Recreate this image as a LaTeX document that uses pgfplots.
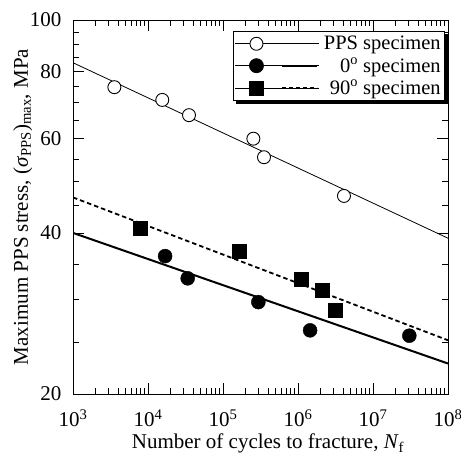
\documentclass[border=0pt]{standalone}
\usepackage{fontspec}
\setmainfont{Liberation Serif}
\usepackage{pgfplots}
\pgfplotsset{compat=1.18}
\begin{document}
\begin{tikzpicture}
\useasboundingbox (-73pt,-60pt) rectangle (388pt,394pt);
\begin{axis}[
  at={(0pt,0pt)}, anchor=south west,
  scale only axis, width=375pt, height=374pt,
  xmode=log, ymode=log,
  xmin=1e3, xmax=1e8, ymin=20, ymax=100,
  xtick={1e3,1e4,1e5,1e6,1e7,1e8},
  xticklabels={10\textsuperscript{3},10\textsuperscript{4},10\textsuperscript{5},10\textsuperscript{6},10\textsuperscript{7},10\textsuperscript{8}},
  minor xtick={2e3,3e3,4e3,5e3,6e3,7e3,8e3,9e3,
               2e4,3e4,4e4,5e4,6e4,7e4,8e4,9e4,
               2e5,3e5,4e5,5e5,6e5,7e5,8e5,9e5,
               2e6,3e6,4e6,5e6,6e6,7e6,8e6,9e6,
               2e7,3e7,4e7,5e7,6e7,7e7,8e7,9e7},
  ytick={20,40,60,80,100},
  yticklabels={20,40,60,80,100},
  minor ytick={25,30,35,45,50,55,65,70,75,85,90,95},
  tick align=inside,
  major tick length=11pt, minor tick length=6pt,
  every tick/.style={black, line width=0.8pt},
  axis line style={line width=0.9pt},
  tick label style={font=\fontsize{21}{24}\selectfont},
  xticklabel style={yshift=-12pt},
  yticklabel style={xshift=-8pt},
  label style={font=\fontsize{21}{24}\selectfont},
  xlabel={Number of cycles to fracture, \textit{N}\textsubscript{f}},
  ylabel={Maximum PPS stress, (\textit{σ}\textsubscript{PPS})\textsubscript{max}, MPa},
  xlabel style={at={(axis description cs:0.52,-0.147)}, anchor=base, inner sep=0pt},
  ylabel style={at={(axis description cs:-0.16,0.5)}, anchor=north, rotate=0, inner sep=0pt},
  legend cell align=right,
  legend style={name=leg, at={(rel axis cs:0.992,0.971)}, anchor=north east,
    draw=black, line width=0.8pt, fill=white,
    font=\fontsize{20.5}{24}\selectfont,
    row sep=2.5pt, column sep=2pt, inner xsep=2pt, inner ysep=3pt},
]
\addlegendimage{legend image code/.code={
  \path (-21pt,0pt) -- (63pt,0pt);
  \draw[black, line width=0.9pt, fill=white] (0pt,0pt) circle (6.5pt);
  \draw[black, line width=0.8pt] (26pt,0pt) -- (61pt,0pt);}}
\addlegendentry{PPS specimen}
\addlegendimage{legend image code/.code={
  \path (-21pt,0pt) -- (63pt,0pt);
  \fill[black] (0pt,0pt) circle (7pt);
  \draw[black, line width=2pt] (26pt,0pt) -- (61pt,0pt);}}
\addlegendentry{0\textsuperscript{o} specimen}
\addlegendimage{legend image code/.code={
  \path (-21pt,0pt) -- (63pt,0pt);
  \fill[black] (-7pt,-7pt) rectangle (7pt,7pt);
  \draw[black, line width=1.6pt, dash pattern=on 4pt off 3pt] (26pt,0pt) -- (61pt,0pt);}}
\addlegendentry{90\textsuperscript{o} specimen}

% fitted lines
\addplot[forget plot, black, line width=0.8pt] coordinates {(1e3,83.2) (1e8,39.1)};
\addplot[forget plot, black, line width=2pt] coordinates {(1e3,40.0) (1e8,22.8)};
\addplot[forget plot, black, line width=1.8pt, dash pattern=on 4.5pt off 3pt] coordinates {(1e3,46.6) (1e8,25.2)};

% PPS specimen
\addplot[forget plot, only marks, mark=*, mark size=6.5pt,
  mark options={draw=black, fill=white, line width=0.9pt}] coordinates {
  (3.56e3,74.9) (1.55e4,70.9) (3.52e4,66.4) (2.54e5,60.0) (3.52e5,55.4) (4.1e6,46.9)};
% 0 deg specimen
\addplot[forget plot, only marks, mark=*, mark size=7pt,
  mark options={draw=black, fill=black}] coordinates {
  (1.69e4,36.2) (3.38e4,32.9) (2.96e5,29.7) (1.45e6,26.3) (3.05e7,25.7)};
% 90 deg specimen
\addplot[forget plot, only marks, mark=square*, mark size=7pt,
  mark options={draw=black, fill=black}] coordinates {
  (7.82e3,40.9) (1.65e5,36.9) (1.1e6,32.8) (2.13e6,31.2) (3.14e6,28.7)};
\end{axis}
% legend shadow
\draw[black, line width=2.5pt] ([shift={(1.25pt,-3pt)}]leg.north east)
  -- ([shift={(1.25pt,-1.25pt)}]leg.south east) -- ([shift={(3pt,-1.25pt)}]leg.south west);
\end{tikzpicture}
\end{document}
